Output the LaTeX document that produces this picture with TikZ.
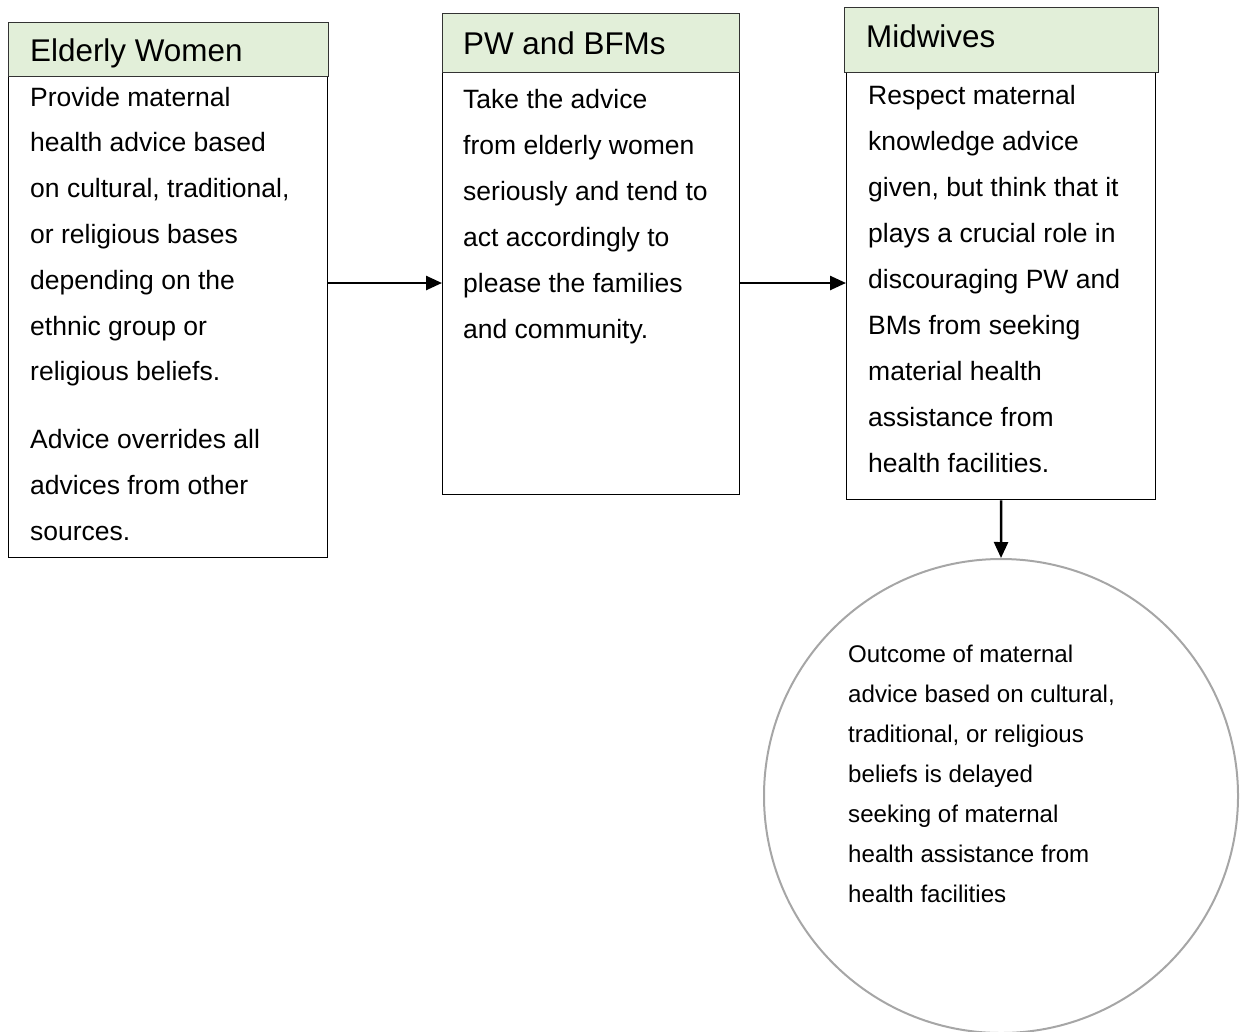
\documentclass[tikz,border=0pt]{standalone}
\usepackage{fontspec}
\setmainfont{Liberation Sans}
\usetikzlibrary{arrows.meta}
\definecolor{hdrgreen}{HTML}{E2EFD9}
\definecolor{circgray}{HTML}{A6A6A6}
\begin{document}
\begin{tikzpicture}[x=1pt,y=-1pt,
  bodybox/.style={draw=black,line width=1.4pt,fill=white,anchor=north west,inner sep=0pt},
  hdrbox/.style={draw=black!80,line width=1.4pt,fill=hdrgreen,anchor=north west,inner sep=0pt},
  hdrtext/.style={anchor=base west,inner sep=0pt,font=\fontsize{31.4}{37}\selectfont},
  bodytext/.style={anchor=base west,inner sep=0pt,font=\fontsize{26.5}{46}\selectfont},
  circtext/.style={anchor=base west,inner sep=0pt,font=\fontsize{24.1}{40}\selectfont},
  flow/.style={line width=2.5pt,-{Triangle[length=16pt,width=14pt]}},
  outcome/.style={circle,draw=circgray,line width=2pt,minimum size=474pt,inner sep=0pt}
]
\useasboundingbox (0,0) rectangle (1244,1031);

% boxes
\node[bodybox,minimum width=319pt,minimum height=481pt] (b1) at (8,76) {};
\node[hdrbox,minimum width=320pt,minimum height=54pt] (h1) at (8,22) {};
\node[bodybox,minimum width=297pt,minimum height=422pt] (b2) at (442,72) {};
\node[hdrbox,minimum width=297pt,minimum height=59pt] (h2) at (442,13) {};
\node[bodybox,minimum width=309pt,minimum height=427pt] (b3) at (846,72) {};
\node[hdrbox,minimum width=314pt,minimum height=65pt] (h3) at (844,7) {};
\node[outcome] (c) at (1001,796) {};

% headers
\node[hdrtext] (t1) at (30,61) {Elderly Women};
\node[hdrtext] (t2) at (463,54) {PW and BFMs};
\node[hdrtext] (t3) at (866,47) {Midwives};

% box 1 text
\foreach \s [count=\i] in {Provide maternal,health advice based,{on cultural, traditional,},or religious bases,depending on the,ethnic group or,religious beliefs.}
  \node[bodytext] (pa\i) at (30,{106+45.8*(\i-1)}) {\s};
\foreach \s [count=\i] in {Advice overrides all,advices from other,sources.}
  \node[bodytext] (pb\i) at (30,{448+46*(\i-1)}) {\s};

% box 2 text
\foreach \s [count=\i] in {Take the advice,from elderly women,seriously and tend to,act accordingly to,please the families,and community.}
  \node[bodytext] (q\i) at (463,{108+46*(\i-1)}) {\s};

% box 3 text
\foreach \s [count=\i] in {Respect maternal,knowledge advice,{given, but think that it},plays a crucial role in,discouraging PW and,BMs from seeking,material health,assistance from,health facilities.}
  \node[bodytext] (m\i) at (868,{104+46*(\i-1)}) {\s};

% circle text
\foreach \s [count=\i] in {Outcome of maternal,{advice based on cultural,},{traditional, or religious},beliefs is delayed,seeking of maternal,health assistance from,health facilities}
  \node[circtext] (o\i) at (848,{662+40*(\i-1)}) {\s};

% connectors
\coordinate (row) at (0,283);
\draw[flow] (b1.east |- row) -- (b2.west |- row);
\draw[flow] (b2.east |- row) -- (b3.west |- row);
\draw[flow] (b3.south) -- (c.north);
\end{tikzpicture}
\end{document}
